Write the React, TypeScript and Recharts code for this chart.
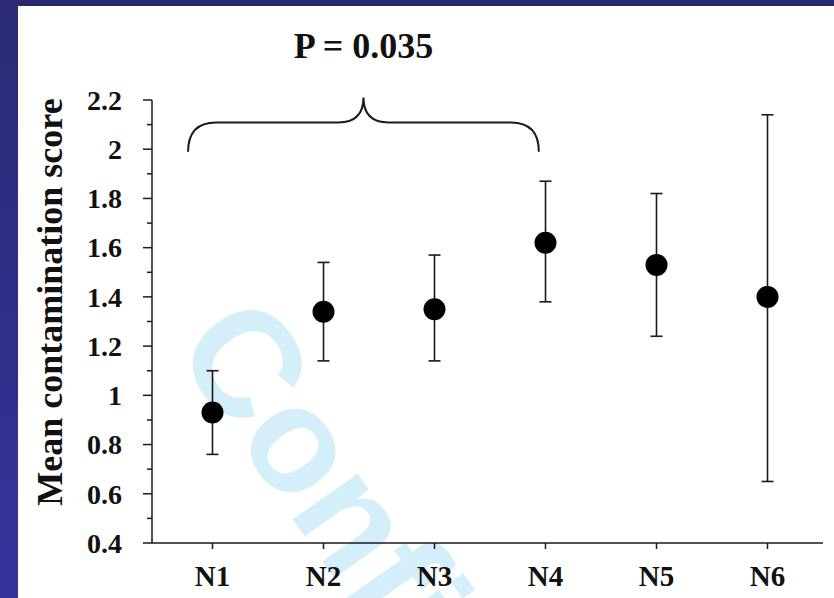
import { ComposedChart, Scatter, ErrorBar, XAxis, YAxis, ReferenceArea } from "recharts";

const groups = ["N1", "N2", "N3", "N4", "N5", "N6"];
const means = [0.93, 1.34, 1.35, 1.62, 1.53, 1.4];
const lower = [0.76, 1.14, 1.14, 1.38, 1.24, 0.65];
const upper = [1.1, 1.54, 1.57, 1.87, 1.82, 2.14];
const xTicks = [1, 2, 3, 4, 5, 6];
const yTicks = [0.4, 0.5, 0.6, 0.7, 0.8, 0.9, 1, 1.1, 1.2, 1.3, 1.4, 1.5, 1.6, 1.7, 1.8, 1.9, 2, 2.1, 2.2];
const majorTicks = [0.4, 0.6, 0.8, 1, 1.2, 1.4, 1.6, 1.8, 2, 2.2];
const pValue = "P = 0.035";
const yTitle = "Mean contamination score";

const points = groups.map((g, i) => ({
  x: i + 1,
  name: g,
  y: means[i],
  err: [means[i] - lower[i], upper[i] - means[i]],
}));

const SERIF = "'Liberation Serif', 'Times New Roman', serif";
const INK = "#1a1a1a";

function YTick({ x, y, payload }: any) {
  const v = payload.value;
  const major = majorTicks.includes(v);
  return (
    <g>
      <line x1={x - (major ? 9 : 5)} x2={x} y1={y} y2={y} stroke={INK} strokeWidth={1.5} />
      {major && (
        <text
          x={x - 30}
          y={y}
          dy="0.35em"
          textAnchor="end"
          fontFamily={SERIF}
          fontWeight={700}
          fontSize={28}
          fill="#111"
        >
          {String(Number(v.toFixed(1)))}
        </text>
      )}
    </g>
  );
}

function Dot({ cx, cy }: any) {
  return <circle cx={cx} cy={cy} r={11} fill="#000" />;
}

// curly brace over N1..N4
function Brace({ x, y, width, height }: any) {
  const m = y + height * 0.46;
  const b = y + height;
  const cx = x + width / 2;
  const d = [
    `M${x},${b}`,
    `Q${x},${m} ${x + 28},${m}`,
    `L${cx - 25},${m}`,
    `Q${cx},${m} ${cx},${y}`,
    `Q${cx},${m} ${cx + 25},${m}`,
    `L${x + width - 28},${m}`,
    `Q${x + width},${m} ${x + width},${b}`,
  ].join(" ");
  return <path d={d} fill="none" stroke={INK} strokeWidth={2} />;
}

export default function App() {
  return (
    <div
      style={{
        position: "absolute",
        left: 0,
        top: 0,
        width: 834,
        height: 598,
        overflow: "hidden",
        background: "#fff",
      }}
    >
      {/* watermark */}
      <svg width={834} height={598} style={{ position: "absolute", left: 0, top: 0 }}>
        <text
          transform="translate(172 347) rotate(55)"
          fontFamily="'Liberation Sans', Arial, sans-serif"
          fontWeight={700}
          fontSize={150}
          fill="#d4eefa"
        >
          Confidential
        </text>
      </svg>

      <div style={{ position: "absolute", left: 0, top: 0 }}>
        <ComposedChart width={834} height={598} margin={{ top: 100, right: 11, bottom: 10, left: 22 }}>
          <XAxis
            type="number"
            dataKey="x"
            domain={[0.5, 6.5]}
            ticks={xTicks}
            interval={0}
            padding={{ left: 5, right: 0 }}
            height={45}
            tickFormatter={(v) => groups[v - 1]}
            tickSize={6}
            tickMargin={16}
            axisLine={{ stroke: INK, strokeWidth: 1.5 }}
            tickLine={{ stroke: INK, strokeWidth: 1.5 }}
            tick={{ fill: "#111", fontSize: 29, fontWeight: 700, fontFamily: SERIF }}
          />
          <YAxis
            type="number"
            domain={[0.4, 2.2]}
            allowDataOverflow
            ticks={yTicks}
            interval={0}
            width={130}
            tickSize={0}
            tickMargin={0}
            tickLine={false}
            axisLine={{ stroke: INK, strokeWidth: 1.5 }}
            tick={YTick}
          />
          <ReferenceArea
            x1={0.78}
            x2={3.94}
            y1={1.99}
            y2={2.21}
            ifOverflow="visible"
            shape={Brace}
            label={{
              value: pValue,
              position: "top",
              offset: 40,
              fill: "#111",
              fontSize: 36,
              fontWeight: 700,
              fontFamily: SERIF,
            }}
          />
          <Scatter data={points} dataKey="y" shape={Dot} isAnimationActive={false}>
            <ErrorBar dataKey="err" direction="y" width={6} stroke={INK} strokeWidth={1.6} isAnimationActive={false} />
          </Scatter>
        </ComposedChart>
      </div>

      {/* y axis title */}
      <svg width={834} height={598} style={{ position: "absolute", left: 0, top: 0, pointerEvents: "none" }}>
        <text
          transform="translate(62 302) rotate(-90)"
          textAnchor="middle"
          fontFamily={SERIF}
          fontWeight={700}
          fontSize={36}
          fill="#111"
        >
          {yTitle}
        </text>
      </svg>

      {/* slide frame */}
      <div style={{ position: "absolute", left: 0, top: 0, width: 834, height: 6, background: "#29286f" }} />
      <div
        style={{
          position: "absolute",
          left: 0,
          top: 0,
          width: 18,
          height: 598,
          background: "linear-gradient(#2b2a74, #34349c)",
        }}
      />
    </div>
  );
}
